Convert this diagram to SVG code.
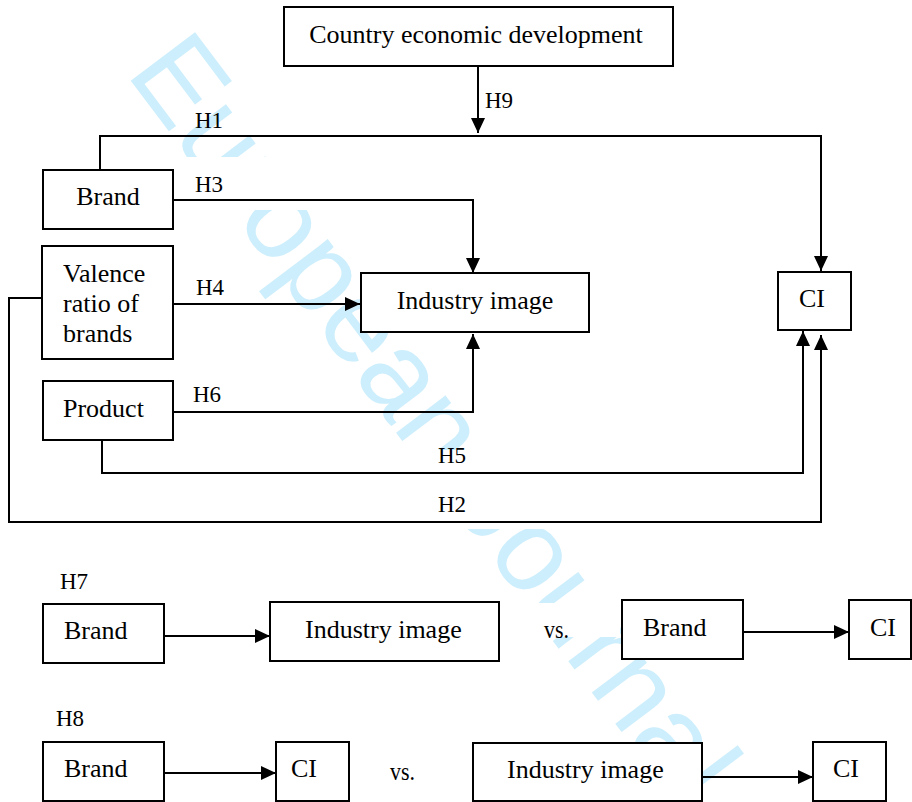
<svg xmlns="http://www.w3.org/2000/svg" width="912" height="802" viewBox="0 0 912 802">
<defs>
<style>
.box{fill:#fff;stroke:#000;stroke-width:2}
.ln{fill:none;stroke:#000;stroke-width:2}
.t{font-family:"Liberation Serif","Times New Roman",serif;font-size:26px;fill:#000}
.lb{font-family:"Liberation Serif","Times New Roman",serif;font-size:23px;fill:#000}
.c{text-anchor:middle}
.wm{font-family:"Liberation Sans",Arial,sans-serif;font-size:117px;fill:#cdeefc}
.mask{fill:#fff;stroke:none}
</style>
<marker id="ah" markerUnits="userSpaceOnUse" markerWidth="16" markerHeight="14" refX="15" refY="7" orient="auto">
<path d="M0,0 L15,7 L0,14 z" fill="#000"/>
</marker>
</defs>
<rect width="912" height="802" fill="#fff"/>
<g id="watermark">
<text class="wm" transform="translate(125,73) rotate(53)">European Journal</text>
<rect class="mask" x="175" y="157" width="305" height="53"/>
<rect class="mask" x="100" y="450" width="700" height="79"/>
<rect class="mask" x="525" y="603" width="95" height="34"/>
</g>
<g id="connectors">
<path class="ln" d="M478,66 V133" marker-end="url(#ah)"/>
<path class="ln" d="M100,170 V136 H821 V271" marker-end="url(#ah)"/>
<path class="ln" d="M173,200 H473 V273" marker-end="url(#ah)"/>
<path class="ln" d="M173,304 H360" marker-end="url(#ah)"/>
<path class="ln" d="M42,298 H9 V522 H821 V335" marker-end="url(#ah)"/>
<path class="ln" d="M173,412 H473 V334" marker-end="url(#ah)"/>
<path class="ln" d="M102,440 V473 H803 V331" marker-end="url(#ah)"/>
<path class="ln" d="M164,636 H270" marker-end="url(#ah)"/>
<path class="ln" d="M743,632 H849" marker-end="url(#ah)"/>
<path class="ln" d="M164,773 H276" marker-end="url(#ah)"/>
<path class="ln" d="M702,777 H813" marker-end="url(#ah)"/>
<text class="lb" x="485" y="108">H9</text>
<text class="lb" x="195" y="128">H1</text>
<text class="lb" x="195" y="192">H3</text>
<text class="lb" x="196" y="295">H4</text>
<text class="lb" x="193" y="402">H6</text>
<text class="lb" x="438" y="463">H5</text>
<text class="lb" x="438" y="512">H2</text>
</g>
<g id="country"><rect class="box" x="284" y="7" width="389" height="59"/><text class="t c" x="476" y="43">Country economic development</text></g>
<g id="brand"><rect class="box" x="43" y="170" width="130" height="59"/><text class="t c" x="108" y="205">Brand</text></g>
<g id="valence"><rect class="box" x="42" y="246" width="131" height="113"/><text class="t" x="63" y="282">Valence</text><text class="t" x="63" y="312">ratio of</text><text class="t" x="63" y="342">brands</text></g>
<g id="product"><rect class="box" x="43" y="381" width="130" height="59"/><text class="t" x="63" y="417">Product</text></g>
<g id="industry"><rect class="box" x="361" y="273" width="228" height="59"/><text class="t c" x="475" y="309">Industry image</text></g>
<g id="ci"><rect class="box" x="778" y="272" width="73" height="58"/><text class="t c" x="812" y="307">CI</text></g>
<g id="h7">
<text class="lb" x="60" y="589">H7</text>
<g id="h7-brand"><rect class="box" x="43" y="604" width="121" height="59"/><text class="t" x="64" y="639">Brand</text></g>
<g id="h7-industry"><rect class="box" x="270" y="602" width="229" height="59"/><text class="t" x="305" y="638">Industry image</text></g>
<text class="t" x="544" y="638" font-size="23" textLength="25" lengthAdjust="spacingAndGlyphs">vs.</text>
<g id="h7-brand2"><rect class="box" x="622" y="600" width="121" height="59"/><text class="t" x="643" y="636">Brand</text></g>
<g id="h7-ci"><rect class="box" x="849" y="600" width="62" height="59"/><text class="t" x="870" y="636">CI</text></g>
</g>
<g id="h8">
<text class="lb" x="56" y="726">H8</text>
<g id="h8-brand"><rect class="box" x="43" y="742" width="121" height="59"/><text class="t" x="64" y="777">Brand</text></g>
<g id="h8-ci"><rect class="box" x="276" y="742" width="73" height="59"/><text class="t" x="291" y="777">CI</text></g>
<text class="t" x="390" y="780" font-size="23" textLength="25" lengthAdjust="spacingAndGlyphs">vs.</text>
<g id="h8-industry"><rect class="box" x="473" y="743" width="229" height="58"/><text class="t" x="507" y="778">Industry image</text></g>
<g id="h8-ci2"><rect class="box" x="813" y="742" width="73" height="59"/><text class="t" x="833" y="777">CI</text></g>
</g>
</svg>
